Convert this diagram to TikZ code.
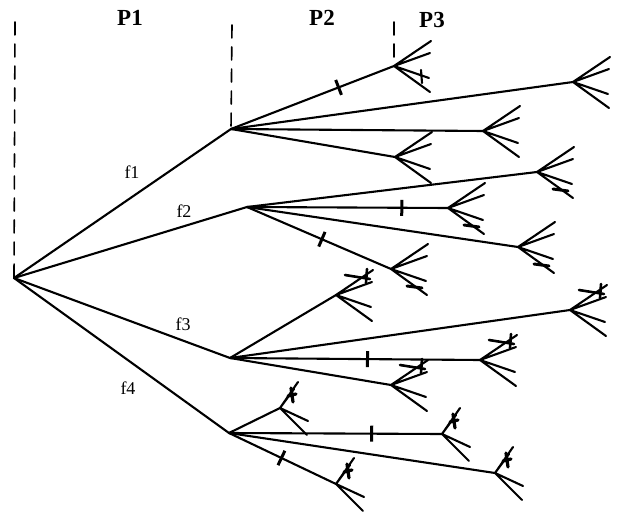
\documentclass[tikz,border=0pt]{standalone}
\usepackage{fontspec}
\setmainfont{Liberation Serif}
\usetikzlibrary{calc}

\begin{document}
\begin{tikzpicture}[x=1pt, y=-1pt, line width=2.1pt, line cap=round,
    part/.style={font=\fontsize{23}{26}\selectfont\bfseries},
    flab/.style={font=\fontsize{18}{20}\selectfont},
    border/.style={line width=1.6pt, dash pattern=on 13pt off 9pt},
    tickmark/.style={sloped, fill=black, inner sep=0pt, minimum width=3pt, minimum height=16pt},
    crow/.pic={\draw (0,0) -- (37,-25) (0,0) -- (36,-13) (0,0) -- (35,12) (0,0) -- (36,26);},
    crowlow/.pic={\draw (0,0) -- (37,-25) (0,0) -- (36,-13) (0,0) -- (35,12) (0,0) -- (36,26);
        \draw[line width=3pt] (16,17) -- (31,19);},
    crowmid/.pic={\draw (0,0) -- (37,-25) (0,0) -- (36,-13) (0,0) -- (35,12) (0,0) -- (36,26);
        \draw (27,4) -- (28,17);},
    crowtop/.pic={\draw (0,0) -- (37,-25) (0,0) -- (36,-13) (0,0) -- (35,12) (0,0) -- (36,26);
        \draw[line width=2.6pt] (9,-20) -- (34,-16) (31,-26) -- (30,-12);},
    crowA/.pic={\draw (0,0) -- (18,-26) (0,0) -- (14,-19) (0,0) -- (28,13) (0,0) -- (27,27);
        \draw[line width=3.2pt] (8,-12) -- (16,-14) (11,-20) -- (13,-6);}
]
\useasboundingbox (0,0) rectangle (618,511);

% Root and first moves
\coordinate (r) at (14,278);
\coordinate (a1) at (231,129);
\coordinate (a2) at (247,207);
\coordinate (a3) at (230,358);
\coordinate (a4) at (229,433);

% Second moves
\coordinate (b11) at (394,66);
\coordinate (b12) at (573,82);
\coordinate (b13) at (483,131);
\coordinate (b14) at (395,157);
\coordinate (b21) at (537,172);
\coordinate (b22) at (448,208);
\coordinate (b23) at (518,247);
\coordinate (b24) at (391,269);
\coordinate (b31) at (336,295);
\coordinate (b32) at (570,310);
\coordinate (b33) at (480,360);
\coordinate (b34) at (391,385);
\coordinate (b41) at (280,408);
\coordinate (b42) at (442,434);
\coordinate (b43) at (495,473);
\coordinate (b44) at (336,484);

% Tops of the period borders
\coordinate (t1) at (15,22);
\coordinate (t2) at (232,25);
\coordinate (t3) at (394,22);

% Period borders
\draw[border] (t1) -- (r);
\draw[border] (t2) -- (a1);
\draw[border] (t3) -- (b11);

% Period labels
\node[part] (p1) at (130,18) {P1};
\node[part] (p2) at (322,18) {P2};
\node[part] (p3) at (432,20) {P3};

% First level
\draw (r) -- (a1);
\draw (r) -- (a2);
\draw (r) -- (a3);
\draw (r) -- (a4);
\node[flab] (l1) at (132,172) {f1};
\node[flab] (l2) at (184,211) {f2};
\node[flab] (l3) at (183,324) {f3};
\node[flab] (l4) at (128,388) {f4};

% Second level
\draw (a1) -- node[tickmark, pos=0.66] {} (b11);
\draw (a1) -- (b12);
\draw (a1) -- (b13);
\draw (a1) -- (b14);
\draw (a2) -- (b21);
\draw (a2) -- node[tickmark, pos=0.77] {} (b22);
\draw (a2) -- (b23);
\draw (a2) -- node[tickmark, pos=0.52] {} (b24);
\draw (a3) -- (b31);
\draw (a3) -- (b32);
\draw (a3) -- node[tickmark, pos=0.55] {} (b33);
\draw (a3) -- (b34);
\draw (a4) -- (b41);
\draw (a4) -- node[tickmark, pos=0.67] {} (b42);
\draw (a4) -- (b43);
\draw (a4) -- node[tickmark, pos=0.49] {} (b44);

% Crow's feet
\pic at (b11) {crowmid};
\pic at (b12) {crow};
\pic at (b13) {crow};
\pic at (b14) {crow};
\pic at (b21) {crowlow};
\pic at (b22) {crowlow};
\pic at (b23) {crowlow};
\pic at (b24) {crowlow};
\pic at (b31) {crowtop};
\pic at (b32) {crowtop};
\pic at (b33) {crowtop};
\pic at (b34) {crowtop};
\pic at (b41) {crowA};
\pic at (b42) {crowA};
\pic at (b43) {crowA};
\pic at (b44) {crowA};
\end{tikzpicture}
\end{document}
